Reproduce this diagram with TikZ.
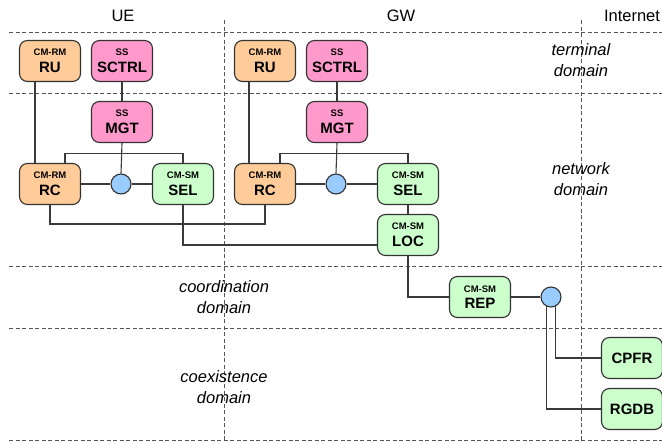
\documentclass[tikz,border=0pt]{standalone}
\usepackage{fontspec}
\setmainfont{Liberation Sans}
\usetikzlibrary{calc}

\definecolor{rmfill}{HTML}{FFCC99}
\definecolor{ssfill}{HTML}{FF99CC}
\definecolor{smfill}{HTML}{CCFFCC}
\definecolor{jfill}{HTML}{99CCFF}
\definecolor{edge}{HTML}{333333}
\definecolor{wire}{HTML}{3A3A3A}
\definecolor{gridline}{HTML}{555555}

% two-line block label: small module tag above the block name
\newcommand{\blk}[2]{{\fontsize{9.5}{10}\selectfont #1}\\#2}
\newcommand{\dom}[2]{#1\\#2}

\tikzset{
  block/.style={draw=edge, line width=1.1pt, rounded corners=8pt,
    minimum width=61pt, minimum height=41pt, inner sep=0pt,
    align=center, font=\fontsize{15}{16.5}\selectfont\bfseries},
  rmblock/.style={block, fill=rmfill},
  ssblock/.style={block, fill=ssfill},
  smblock/.style={block, fill=smfill},
  junc/.style={circle, draw=edge, line width=1.1pt, fill=jfill,
    minimum size=20pt, inner sep=0pt},
  wired/.style={draw=wire, line width=1.1pt},
  zone/.style={draw=gridline, line width=1pt, dash pattern=on 4pt off 2.5pt},
  head/.style={font=\fontsize{16.5}{20}\selectfont},
  domlabel/.style={align=center, font=\fontsize{16.5}{21}\selectfont\itshape}
}

\begin{document}
\begin{tikzpicture}[x=1pt,y=-1pt]
\useasboundingbox (0,0) rectangle (662,442);

% zone grid
\foreach \yy in {32,93,266,328,440}
  \draw[zone] (9,\yy) -- (662,\yy);
\draw[zone] (224,20) -- (224,442);
\draw[zone] (581,20) -- (581,442);

% column headings
\node[head] (hUE) at (123,16) {UE};
\node[head] (hGW) at (401,16) {GW};
\node[head] (hNet) at (632,16) {Internet};

% domain labels
\node[domlabel] (dTerm) at (581,60.5) {\dom{terminal}{domain}};
\node[domlabel] (dNet) at (581,179) {\dom{network}{domain}};
\node[domlabel] (dCoord) at (224,297) {\dom{coordination}{domain}};
\node[domlabel] (dCoex) at (224,387) {\dom{coexistence}{domain}};

% UE blocks
\node[rmblock] (ueRU) at (50,61) {\blk{CM-RM}{RU}};
\node[ssblock] (ueSCTRL) at (122,61) {\blk{SS}{SCTRL}};
\node[ssblock] (ueMGT) at (122,122) {\blk{SS}{MGT}};
\node[rmblock] (ueRC) at (50,184) {\blk{CM-RM}{RC}};
\node[junc] (ueC) at (121,184) {};
\node[smblock] (ueSEL) at (183,184) {\blk{CM-SM}{SEL}};

% GW blocks
\node[rmblock] (gwRU) at (265,61) {\blk{CM-RM}{RU}};
\node[ssblock] (gwSCTRL) at (337,61) {\blk{SS}{SCTRL}};
\node[ssblock] (gwMGT) at (337,122) {\blk{SS}{MGT}};
\node[rmblock] (gwRC) at (265,184) {\blk{CM-RM}{RC}};
\node[junc] (gwC) at (336,184) {};
\node[smblock] (gwSEL) at (408,184) {\blk{CM-SM}{SEL}};
\node[smblock] (LOC) at (408,235) {\blk{CM-SM}{LOC}};

% coordination / coexistence blocks
\node[smblock] (REP) at (480,297) {\blk{CM-SM}{REP}};
\node[junc] (repC) at (551,297) {};
\node[smblock] (CPFR) at (632,358) {CPFR};
\node[smblock] (RGDB) at (632,409) {RGDB};

% tap points
\coordinate (ueJ) at ($(ueMGT.south)+(0,10)$);
\coordinate (gwJ) at ($(gwMGT.south)+(0,10)$);
\coordinate (bus) at (ueSEL.south |- 0,224);

% UE wiring
\draw[wired] ($(ueRU.south)+(-15,0)$) -- ($(ueRC.north)+(-15,0)$);
\draw[wired] (ueSCTRL.south) -- (ueMGT.north);
\draw[wired] (ueMGT.south) -- (ueC.north);
\draw[wired] ($(ueRC.north)+(15,0)$) |- (ueJ) -| (ueSEL.north);
\draw[wired] (ueRC.east) -- (ueC.west);
\draw[wired] (ueC.east) -- (ueSEL.west);

% GW wiring
\draw[wired] ($(gwRU.south)+(-16,0)$) -- ($(gwRC.north)+(-16,0)$);
\draw[wired] (gwSCTRL.south) -- (gwMGT.north);
\draw[wired] (gwMGT.south) -- (gwC.north);
\draw[wired] ($(gwRC.north)+(15,0)$) |- (gwJ) -| (gwSEL.north);
\draw[wired] (gwRC.east) -- (gwC.west);
\draw[wired] (gwC.east) -- (gwSEL.west);
\draw[wired] (gwSEL.south) -- (LOC.north);

% shared bus between the two RC blocks and towards LOC
\draw[wired] (ueRC.south) |- (bus) -| (gwRC.south);
\draw[wired] (ueSEL.south) -- (bus) |- ($(LOC.west)+(0,10)$);

% reporting chain
\draw[wired] (LOC.south) |- (REP.west);
\draw[wired] (REP.east) -- (repC.west);
\draw[wired] (repC.-63) |- (CPFR.west);
\draw[wired] (repC.-117) |- (RGDB.west);
\end{tikzpicture}
\end{document}
